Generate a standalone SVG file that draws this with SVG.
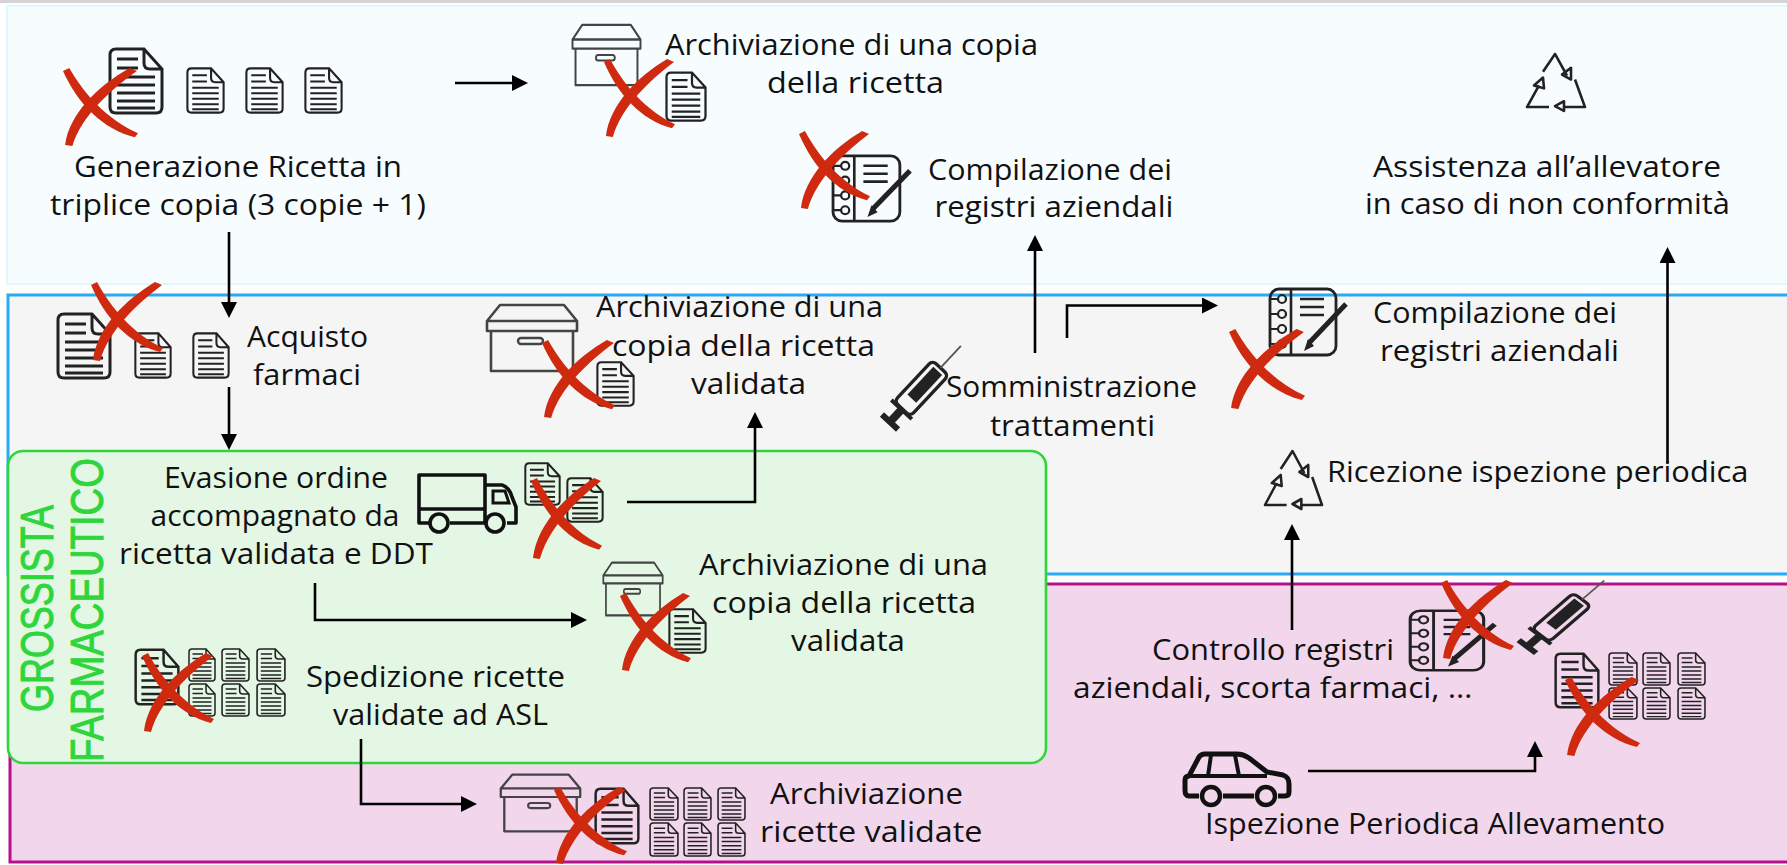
<svg xmlns="http://www.w3.org/2000/svg" width="1787" height="865" viewBox="0 0 1787 865">
<style>
.t{font-family:"Open Sans","Liberation Sans",sans-serif;font-size:30px;fill:#111}
.g{font-family:"Liberation Sans",Arial,sans-serif;font-size:47px;fill:#2ed63c;stroke:#2ed63c;stroke-width:1}
.c{fill:none;stroke:#000;stroke-width:2.6}
</style>
<defs>
<marker id="ah" markerUnits="userSpaceOnUse" markerWidth="16" markerHeight="16" refX="12" refY="8" orient="auto"><path d="M0,0L16,8L0,16Z" fill="#000"/></marker>
<symbol id="doc" viewBox="0 0 56 68" preserveAspectRatio="none" overflow="visible">
<path d="M8,2H36L54,22V60Q54,66 48,66H8Q2,66 2,60V8Q2,2 8,2ZM36,2V16Q36,22 42,22H54" fill="none" stroke="#222" stroke-width="3"/>
<path d="M9,12H30M9,21H30M9,30H47M9,38H47M9,46H47M9,54H47M9,61H47" fill="none" stroke="#222" stroke-width="3"/>
</symbol>
<symbol id="box" viewBox="0 0 94 70" preserveAspectRatio="none" overflow="visible">
<path d="M15,2H79L92,18V28H2V18ZM2,18H92M6,28V68H88V28" fill="none" stroke="#444" stroke-width="2.6" stroke-linejoin="round"/>
<rect x="33" y="35" width="25" height="6" rx="3" fill="none" stroke="#444" stroke-width="2.4"/>
</symbol>
<symbol id="note" viewBox="0 0 80 70" preserveAspectRatio="none" overflow="visible">
<rect x="2" y="2" width="66" height="66" rx="9" fill="none" stroke="#222" stroke-width="2.8"/>
<path d="M23,2V68M32,12H56M32,20H56M32,28H56" fill="none" stroke="#222" stroke-width="2.6"/>
<g fill="none" stroke="#222" stroke-width="2.2"><circle cx="14" cy="12" r="4"/><circle cx="14" cy="27" r="4"/><circle cx="14" cy="42" r="4"/><circle cx="14" cy="57" r="4"/><path d="M2,12H10M2,27H10M2,42H10M2,57H10"/></g>
<path d="M78,17L41,56" stroke="#222" stroke-width="5" fill="none"/><path d="M40,52L36,64L46,59Z" fill="#222"/>
</symbol>
<symbol id="syr" viewBox="0 0 72 77" preserveAspectRatio="none" overflow="visible">
<g transform="translate(5,72) rotate(-47)" fill="none" stroke="#222">
<path d="M0,-11V11" stroke-width="6"/><path d="M0,0H18" stroke-width="8"/><path d="M17,-14V14" stroke-width="4"/>
<rect x="18" y="-11" width="56" height="22" rx="5" stroke-width="3.4"/>
<rect x="32" y="-6" width="38" height="12" fill="#222" stroke="none"/>
<path d="M74,0H104" stroke-width="1.8" stroke="#555"/>
</g>
</symbol>
<symbol id="truck" viewBox="0 0 101 61" preserveAspectRatio="none" overflow="visible">
<path d="M12,50H2V2H68V50H33M68,12H85Q92,14 95,24L99,34V50H90M68,36H2" fill="none" stroke="#111" stroke-width="3.6" stroke-linejoin="round"/>
<path d="M76,18H88L92,30H76Z" fill="none" stroke="#111" stroke-width="3"/>
<circle cx="22" cy="50" r="9" fill="none" stroke="#111" stroke-width="3.6"/><circle cx="78" cy="50" r="9" fill="none" stroke="#111" stroke-width="3.6"/>
</symbol>
<symbol id="car" viewBox="0 0 108 54" preserveAspectRatio="none" overflow="visible">
<path d="M16,44H6Q2,44 2,38V28Q2,24 6,24L16,5Q18,2 22,2H54Q60,2 66,6L84,20L100,23Q106,25 106,32V40Q106,44 102,44H95M40,44H71" fill="none" stroke="#111" stroke-width="5" stroke-linejoin="round"/>
<path d="M8,24H84M28,3L25,24M52,3L56,24" fill="none" stroke="#111" stroke-width="4"/>
<circle cx="28" cy="44" r="9" fill="none" stroke="#111" stroke-width="4.4"/><circle cx="83" cy="44" r="9" fill="none" stroke="#111" stroke-width="4.4"/>
</symbol>
<symbol id="rec" viewBox="0 0 62 60" preserveAspectRatio="none" overflow="visible">
<g fill="none" stroke="#222" stroke-width="2.6" stroke-linejoin="round">
<path d="M18,20L30,2L42,24"/><path d="M46,16L46,28L37,23Z"/>
<path d="M50,28L60,56H38"/><path d="M39,50L30,55L39,60Z"/>
<path d="M24,56H2L14,34"/><path d="M9,34L18,26L19,37Z"/>
</g>
</symbol>
<symbol id="x" viewBox="0 0 72 80" preserveAspectRatio="none" overflow="visible">
<g fill="#cf2a10">
<path d="M0,3L6,0C20,26 42,52 72,66L69,70C38,62 14,36 0,3Z"/>
<path d="M64,0L71,3C46,22 18,48 9,79L2,78C6,46 34,18 64,0Z"/>
</g>
</symbol>
</defs>

<rect x="0" y="0" width="1787" height="3" fill="#d4d4d4"/>
<g id="lanes">
<rect x="7" y="6" width="1800" height="278" fill="#f7fcff" stroke="#e0f7fe" stroke-width="2"/>
<rect x="8" y="295" width="1800" height="279" fill="#f5f5f5" stroke="#2aa9f5" stroke-width="3"/>
<rect x="10" y="584" width="1800" height="278" fill="#f2d7ec" stroke="#b5108c" stroke-width="3"/>
<rect x="8" y="451" width="1038" height="312" rx="15" fill="#e4f7e5" stroke="#2ed63c" stroke-width="2.6"/>
</g>
<g id="grossista">
<text class="g" transform="translate(53,712) rotate(-90)" textLength="207" lengthAdjust="spacingAndGlyphs">GROSSISTA</text>
<text class="g" transform="translate(103,762) rotate(-90)" textLength="304" lengthAdjust="spacingAndGlyphs">FARMACEUTICO</text>
</g>

<g id="connectors">
<path class="c" marker-end="url(#ah)" d="M455,83H524"/>
<path class="c" marker-end="url(#ah)" d="M229,232V314"/>
<path class="c" marker-end="url(#ah)" d="M229,387V446"/>
<path class="c" marker-end="url(#ah)" d="M627,502H755V416"/>
<path class="c" marker-end="url(#ah)" d="M1035,353V239"/>
<path class="c" marker-end="url(#ah)" d="M1067,338V305.500H1214"/>
<path class="c" marker-end="url(#ah)" d="M1667.500,463V251"/>
<path class="c" marker-end="url(#ah)" d="M1292,630V528"/>
<path class="c" marker-end="url(#ah)" d="M1308,771H1535V745"/>
<path class="c" marker-end="url(#ah)" d="M315,583V620H583"/>
<path class="c" marker-end="url(#ah)" d="M361,739V804H473"/>
</g>

<g id="n-generazione">
<use href="#doc" x="108" y="47" width="56" height="68"/>
<use href="#doc" x="186" y="67" width="39" height="47"/><use href="#doc" x="245" y="67" width="39" height="47"/><use href="#doc" x="304" y="67" width="39" height="47"/>
<use href="#x" x="63" y="68" width="75" height="79"/>
<text class="t" x="74" y="177" textLength="328" lengthAdjust="spacingAndGlyphs">Generazione Ricetta in</text>
<text class="t" x="50" y="215" textLength="376" lengthAdjust="spacingAndGlyphs">triplice copia (3 copie + 1)</text>
</g>
<g id="n-archivio-copia">
<use href="#box" x="571" y="23" width="71" height="64"/><use href="#doc" x="665" y="71" width="42" height="51"/>
<use href="#x" x="604" y="59" width="71" height="79"/>
<text class="t" x="665" y="55" textLength="373" lengthAdjust="spacingAndGlyphs">Archiviazione di una copia</text>
<text class="t" x="767" y="93" textLength="177" lengthAdjust="spacingAndGlyphs">della ricetta</text>
</g>
<g id="n-compilazione-1">
<use href="#note" x="831" y="154" width="81" height="69"/>
<use href="#x" x="799" y="131" width="71" height="79"/>
<text class="t" x="928" y="180" textLength="244" lengthAdjust="spacingAndGlyphs">Compilazione dei</text>
<text class="t" x="934.500" y="217" textLength="239" lengthAdjust="spacingAndGlyphs">registri aziendali</text>
</g>
<g id="n-assistenza">
<use href="#rec" x="1525" y="52" width="62" height="59"/>
<text class="t" x="1373" y="177" textLength="348" lengthAdjust="spacingAndGlyphs">Assistenza all’allevatore</text>
<text class="t" x="1365" y="214" textLength="365" lengthAdjust="spacingAndGlyphs">in caso di non conformità</text>
</g>
<g id="n-acquisto">
<use href="#doc" x="56" y="312" width="56" height="68"/>
<use href="#doc" x="134" y="332" width="38" height="47"/><use href="#doc" x="192" y="332" width="38" height="47"/>
<use href="#x" x="91" y="282" width="72" height="80"/>
<text class="t" x="247" y="347" textLength="121" lengthAdjust="spacingAndGlyphs">Acquisto</text>
<text class="t" x="253" y="385" textLength="108" lengthAdjust="spacingAndGlyphs">farmaci</text>
</g>
<g id="n-archivio-validata-1">
<use href="#box" x="485" y="303" width="94" height="70"/><use href="#doc" x="596" y="361" width="39" height="46"/>
<use href="#x" x="542" y="340" width="73" height="79"/>
<text class="t" x="596" y="317" textLength="287" lengthAdjust="spacingAndGlyphs">Archiviazione di una</text>
<text class="t" x="612" y="356" textLength="263" lengthAdjust="spacingAndGlyphs">copia della ricetta</text>
<text class="t" x="691" y="394" textLength="115" lengthAdjust="spacingAndGlyphs">validata</text>
</g>
<g id="n-somministrazione">
<use href="#syr" x="885" y="350" width="72" height="77"/>
<text class="t" x="946" y="397" textLength="251" lengthAdjust="spacingAndGlyphs">Somministrazione</text>
<text class="t" x="990" y="436" textLength="165" lengthAdjust="spacingAndGlyphs">trattamenti</text>
</g>
<g id="n-compilazione-2">
<use href="#note" x="1268" y="287" width="80" height="70"/>
<use href="#x" x="1229" y="329" width="76" height="81"/>
<text class="t" x="1373" y="323" textLength="244" lengthAdjust="spacingAndGlyphs">Compilazione dei</text>
<text class="t" x="1380" y="360.500" textLength="239" lengthAdjust="spacingAndGlyphs">registri aziendali</text>
</g>
<g id="n-ricezione">
<use href="#rec" x="1263" y="449" width="61" height="60"/>
<text class="t" x="1327" y="482" textLength="421.500" lengthAdjust="spacingAndGlyphs">Ricezione ispezione periodica</text>
</g>
<g id="n-evasione">
<use href="#truck" x="417" y="473" width="101" height="61"/>
<use href="#doc" x="524" y="462" width="37" height="44"/><use href="#doc" x="566" y="477" width="38" height="46"/>
<use href="#x" x="531" y="478" width="71" height="82"/>
<text class="t" x="164" y="488" textLength="224" lengthAdjust="spacingAndGlyphs">Evasione ordine</text>
<text class="t" x="150.500" y="526" textLength="249" lengthAdjust="spacingAndGlyphs">accompagnato da</text>
<text class="t" x="119" y="564" textLength="314" lengthAdjust="spacingAndGlyphs">ricetta validata e DDT</text>
</g>
<g id="n-archivio-validata-2">
<use href="#box" x="602" y="561" width="62" height="56"/><use href="#doc" x="668" y="608" width="39" height="46"/>
<use href="#x" x="620" y="593" width="71" height="79"/>
<text class="t" x="699" y="575" textLength="289" lengthAdjust="spacingAndGlyphs">Archiviazione di una</text>
<text class="t" x="712" y="613" textLength="264" lengthAdjust="spacingAndGlyphs">copia della ricetta</text>
<text class="t" x="791" y="651" textLength="114" lengthAdjust="spacingAndGlyphs">validata</text>
</g>
<g id="n-spedizione">
<use href="#doc" x="134" y="648" width="46" height="58"/>
<use href="#doc" x="188" y="648" width="28" height="34"/><use href="#doc" x="221" y="648" width="29" height="34"/><use href="#doc" x="256" y="648" width="30" height="34"/>
<use href="#doc" x="188" y="683" width="28" height="34"/><use href="#doc" x="221" y="683" width="29" height="34"/><use href="#doc" x="256" y="683" width="30" height="34"/>
<use href="#x" x="142" y="653" width="72" height="80"/>
<text class="t" x="306" y="687" textLength="259" lengthAdjust="spacingAndGlyphs">Spedizione ricette</text>
<text class="t" x="333" y="725" textLength="215" lengthAdjust="spacingAndGlyphs">validate ad ASL</text>
</g>
<g id="n-archivio-ricette">
<use href="#box" x="499" y="773" width="83" height="60"/><use href="#doc" x="594" y="787" width="46" height="58"/>
<use href="#doc" x="649" y="787" width="30" height="34"/><use href="#doc" x="683" y="787" width="29" height="34"/><use href="#doc" x="717" y="787" width="29" height="34"/>
<use href="#doc" x="649" y="822" width="30" height="35"/><use href="#doc" x="683" y="822" width="29" height="35"/><use href="#doc" x="717" y="822" width="29" height="35"/>
<use href="#x" x="554" y="787" width="73" height="78"/>
<text class="t" x="770" y="804" textLength="193" lengthAdjust="spacingAndGlyphs">Archiviazione</text>
<text class="t" x="760" y="842" textLength="222.500" lengthAdjust="spacingAndGlyphs">ricette validate</text>
</g>
<g id="n-controllo">
<use href="#note" x="1408" y="609" width="89" height="63"/>
<use href="#syr" x="1522" y="584" width="78" height="67"/>
<use href="#x" x="1441" y="580" width="73" height="80"/>
<text class="t" x="1152" y="660" textLength="242" lengthAdjust="spacingAndGlyphs">Controllo registri</text>
<text class="t" x="1073" y="698" textLength="399.500" lengthAdjust="spacingAndGlyphs">aziendali, scorta farmaci, …</text>
</g>
<g id="n-documenti">
<use href="#doc" x="1554" y="652" width="46" height="57"/>
<use href="#doc" x="1608" y="652" width="30" height="34"/><use href="#doc" x="1642" y="652" width="29" height="34"/><use href="#doc" x="1677" y="652" width="29" height="34"/>
<use href="#doc" x="1608" y="687" width="30" height="33"/><use href="#doc" x="1642" y="687" width="29" height="33"/><use href="#doc" x="1677" y="687" width="29" height="33"/>
<use href="#x" x="1565" y="677" width="75" height="80"/>
</g>
<g id="n-ispezione">
<use href="#car" x="1183" y="752" width="108" height="54"/>
<text class="t" x="1205" y="834" textLength="460" lengthAdjust="spacingAndGlyphs">Ispezione Periodica Allevamento</text>
</g>
</svg>
